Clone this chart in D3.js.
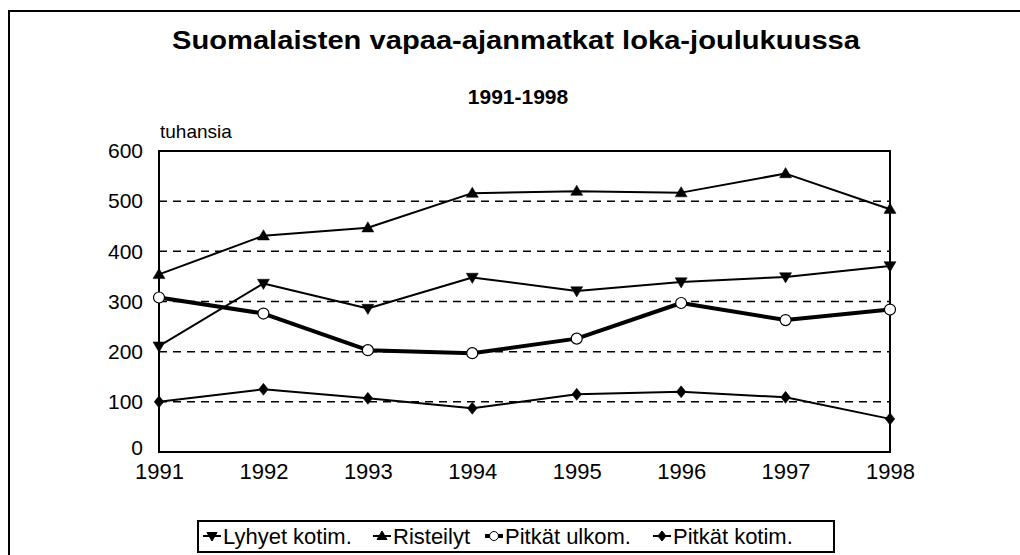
<html>
<head>
    <script src="https://d3js.org/d3.v7.min.js"></script>
    <style>
        body { margin: 0; background: #fff; }
        text { font-family: "Liberation Sans", Arial, sans-serif; fill: #000; }
    </style>
</head>
<body>
<svg id="chartArea" width="1020" height="555"></svg>
<script>
    // data (thousands of trips)
    const years = [1991, 1992, 1993, 1994, 1995, 1996, 1997, 1998];
    const lyhyetKotim = [211, 336, 286, 348, 321, 339, 349, 371];
    const risteilyt = [354, 431, 447, 516, 520, 517, 555, 484];
    const pitkatUlkom = [308, 276, 203, 197, 226, 297, 263, 284];
    const pitkatKotim = [100, 125, 107, 87, 115, 120, 109, 66];
    const yTicks = [0, 100, 200, 300, 400, 500, 600];

    const seriesList = [
        { name: "Lyhyet kotim.", values: lyhyetKotim, symbol: "down", width: 2 },
        { name: "Risteilyt", values: risteilyt, symbol: "up", width: 2 },
        { name: "Pitkät ulkom.", values: pitkatUlkom, symbol: "circle", width: 4 },
        { name: "Pitkät kotim.", values: pitkatKotim, symbol: "diamond", width: 2 }
    ];

    const svg = d3.select("#chartArea");
    const margins = { top: 151, left: 159, right: 890, bottom: 452 };

    // outer frame (runs off the picture on the right and bottom)
    svg.append("rect")
        .attr("x", 9).attr("y", 11)
        .attr("width", 1030).attr("height", 560)
        .attr("fill", "none").attr("stroke", "#000").attr("stroke-width", 2);

    svg.append("text")
        .attr("x", 172).attr("y", 49)
        .attr("textLength", 688).attr("lengthAdjust", "spacingAndGlyphs")
        .style("font-size", "26px").style("font-weight", "bold")
        .text("Suomalaisten vapaa-ajanmatkat loka-joulukuussa");

    svg.append("text")
        .attr("x", 518).attr("y", 104)
        .attr("text-anchor", "middle")
        .style("font-size", "21px").style("font-weight", "bold")
        .text("1991-1998");

    svg.append("text")
        .attr("x", 160).attr("y", 138)
        .style("font-size", "19px")
        .text("tuhansia");

    const xScale = d3.scalePoint()
        .domain(years)
        .range([margins.left, margins.right]);

    const yScale = d3.scaleLinear()
        .domain([0, 600])
        .range([margins.bottom, margins.top]);

    // dashed gridlines
    svg.append("g")
        .selectAll("line")
        .data(yTicks.filter(d => d > 0 && d < 600))
        .join("line")
        .attr("x1", margins.left).attr("x2", margins.right)
        .attr("y1", d => yScale(d)).attr("y2", d => yScale(d))
        .attr("stroke", "#000").attr("stroke-width", 1.5)
        .attr("stroke-dasharray", "8,6");

    // plot border
    svg.append("rect")
        .attr("x", margins.left).attr("y", margins.top)
        .attr("width", margins.right - margins.left)
        .attr("height", margins.bottom - margins.top)
        .attr("fill", "none").attr("stroke", "#000").attr("stroke-width", 2);

    // axes
    const leftAxis = d3.axisLeft(yScale).tickValues(yTicks).tickSize(0).tickPadding(16);
    const leftG = svg.append("g")
        .attr("transform", `translate(${margins.left},0)`)
        .call(leftAxis);
    leftG.select(".domain").remove();
    leftG.selectAll("text").style("font-size", "21px")
        .style("font-family", "'Liberation Sans', Arial, sans-serif").attr("fill", "#000");
    // keep the zero label clear of the first year label
    leftG.selectAll("text").filter(d => d === 0).attr("dy", "0.1em");

    const bottomAxis = d3.axisBottom(xScale).tickSize(0).tickPadding(11);
    const bottomG = svg.append("g")
        .attr("transform", `translate(0,${margins.bottom})`)
        .call(bottomAxis);
    bottomG.select(".domain").remove();
    bottomG.selectAll("text").style("font-size", "22px")
        .style("font-family", "'Liberation Sans', Arial, sans-serif").attr("fill", "#000");

    // marker shapes
    function symbolPath(kind, size) {
        const s = size;
        if (kind === "up") return `M0,${-s} L${s},${s * 0.7} L${-s},${s * 0.7} Z`;
        if (kind === "down") return `M0,${s} L${s},${-s * 0.7} L${-s},${-s * 0.7} Z`;
        if (kind === "diamond") return `M0,${-s} L${s * 0.8},0 L0,${s} L${-s * 0.8},0 Z`;
        return d3.arc()({ innerRadius: 0, outerRadius: s, startAngle: 0, endAngle: 2 * Math.PI });
    }

    const lineGenerator = d3.line()
        .x((d, i) => xScale(years[i]))
        .y(d => yScale(d));

    const gTags = svg.selectAll(".lines")
        .data(seriesList)
        .join("g")
        .attr("class", "lines");

    gTags.append("path")
        .attr("d", d => lineGenerator(d.values))
        .attr("fill", "none")
        .attr("stroke", "#000")
        .attr("stroke-width", d => d.width)
        .attr("stroke-linejoin", "round");

    gTags.selectAll(".marker")
        .data(d => d.values.map((v, i) => ({ v, i, symbol: d.symbol })))
        .join("path")
        .attr("class", "marker")
        .attr("transform", d => `translate(${xScale(years[d.i])},${yScale(d.v)})`)
        .attr("d", d => symbolPath(d.symbol, d.symbol === "circle" ? 5.5 : 6))
        .attr("fill", d => d.symbol === "circle" ? "#fff" : "#000")
        .attr("stroke", "#000")
        .attr("stroke-width", d => d.symbol === "circle" ? 1.2 : 0.5);

    // legend
    const legend = svg.append("g");
    legend.append("rect")
        .attr("x", 198).attr("y", 521)
        .attr("width", 636).attr("height", 31)
        .attr("fill", "#fff").attr("stroke", "#000").attr("stroke-width", 2);

    const legendX = [203, 373, 485, 653];
    const items = legend.selectAll(".item")
        .data(seriesList)
        .join("g")
        .attr("class", "item")
        .attr("transform", (d, i) => `translate(${legendX[i]},536)`);

    items.append("line")
        .attr("x1", 0).attr("x2", 18)
        .attr("stroke", "#000").attr("stroke-width", d => d.width);
    items.append("path")
        .attr("transform", "translate(9,0)")
        .attr("d", d => symbolPath(d.symbol, d.symbol === "circle" ? 4.5 : 5))
        .attr("fill", d => d.symbol === "circle" ? "#fff" : "#000")
        .attr("stroke", "#000").attr("stroke-width", 1);
    items.append("text")
        .attr("x", 20).attr("y", 8)
        .style("font-size", "22px")
        .text(d => d.name);
</script>
</body>
</html>
